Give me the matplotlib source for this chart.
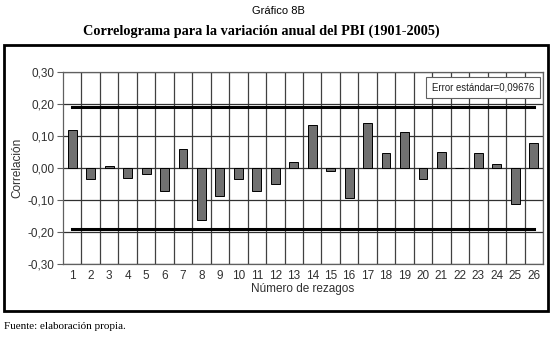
import matplotlib
matplotlib.use("Agg")
import matplotlib.pyplot as plt
from matplotlib.patches import Rectangle

lags = list(range(1, 27))
acf = [0.120, -0.035, 0.008, -0.030, -0.017, -0.072, 0.060, -0.162, -0.088, -0.035,
       -0.072, -0.050, 0.020, 0.136, -0.010, -0.092, 0.142, 0.048, 0.113, -0.034,
       0.051, 0.000, 0.048, 0.013, -0.111, 0.078]
std_err = 0.09676
conf = 1.96 * std_err
yticks = [-0.3, -0.2, -0.1, 0.0, 0.1, 0.2, 0.3]
ytick_labels = ["-0,30", "-0,20", "-0,10", "0,00", "0,10", "0,20", "0,30"]

fig = plt.figure(figsize=(5.56, 3.38), dpi=100)
fig.patch.set_facecolor("white")

# outer frame
fig.patches.append(Rectangle((0.0072, 0.080), 0.9785, 0.787, transform=fig.transFigure,
                             fill=False, edgecolor="black", linewidth=2.0, zorder=0))

ax = fig.add_axes([0.1133, 0.218, 0.8633, 0.569])
ax.set_xlim(0.5, 26.5)
ax.set_ylim(-0.3, 0.3)

for b in range(1, 27):
    ax.axvline(b + 0.5, color="#404040", linewidth=0.9, zorder=1)
for y in yticks:
    ax.axhline(y, color="#303030", linewidth=0.9, zorder=1)

ax.bar(lags, acf, width=0.48, color="#707070", edgecolor="black", linewidth=0.7, zorder=3)
ax.plot(lags, [conf] * len(lags), color="black", linewidth=2.2, zorder=4)
ax.plot(lags, [-conf] * len(lags), color="black", linewidth=2.2, zorder=4)

for s in ax.spines.values():
    s.set_color("#606060")
    s.set_linewidth(0.9)

ax.set_yticks(yticks)
ax.set_yticklabels(ytick_labels)
ax.set_xticks(lags)
ax.set_xticklabels([str(l) for l in lags])
ax.tick_params(axis="x", length=0, pad=4, labelsize=8.5, labelcolor="#303030")
ax.tick_params(axis="y", length=4, pad=2, labelsize=8.5, labelcolor="#303030", color="#606060")
for lbl in ax.get_xticklabels() + ax.get_yticklabels():
    lbl.set_family("Liberation Sans")

ax.set_xlabel("Número de rezagos", fontsize=8.5, family="Liberation Sans", labelpad=1, color="#303030")
ax.set_ylabel("Correlación", fontsize=8.5, family="Liberation Sans", labelpad=3, color="#303030")

ax.text(0.982, 0.945, "Error estándar=0,09676", transform=ax.transAxes, ha="right", va="top",
        fontsize=6.9, family="Liberation Sans", color="#202020", zorder=6,
        bbox=dict(boxstyle="square,pad=0.6", facecolor="white", edgecolor="#606060", linewidth=0.8))

fig.text(0.5, 0.968, "Gráfico 8B", ha="center", va="center", fontsize=8, family="Liberation Sans")
fig.text(0.47, 0.908, "Correlograma para la variación anual del PBI (1901-2005)", ha="center", va="center",
         fontsize=10.3, family="Liberation Serif", fontweight="bold")
fig.text(0.007, 0.033, "Fuente: elaboración propia.", ha="left", va="center", fontsize=8,
         family="Liberation Serif")

fig.savefig("out.png", dpi=100)
